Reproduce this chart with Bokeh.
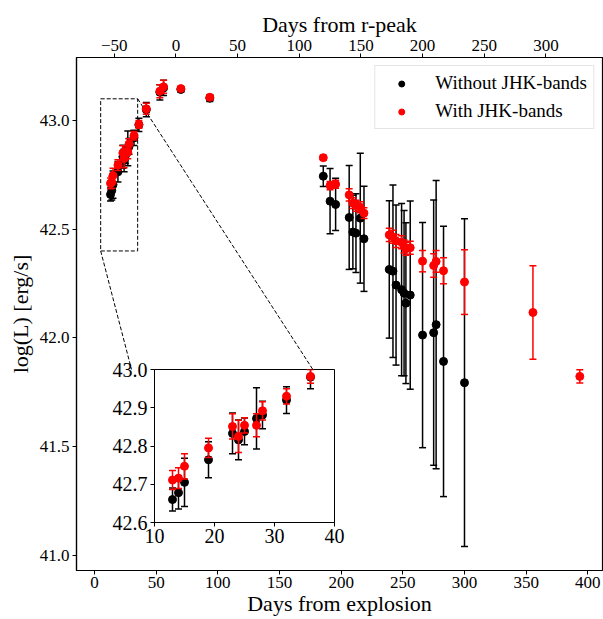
import numpy as np
from bokeh.plotting import figure
from bokeh.models import (Range1d, LinearAxis, FixedTicker, NumeralTickFormatter,
                          ColumnDataSource, Legend, LegendItem, Column)
from bokeh.embed import file_html
from bokeh.resources import INLINE

# ---------------- data ----------------
days_wo = [13, 14, 15, 19, 23, 24, 25, 27, 28, 32, 36, 42, 53, 56, 70, 93.5,
           185.5, 191, 195.5, 206.5, 209.5, 212, 215.5, 218.5,
           239, 242, 244.5, 249, 251, 252.5, 256, 266, 275, 277, 283, 300]
logL_wo = [42.660, 42.678, 42.705, 42.764, 42.833, 42.816, 42.838, 42.872, 42.881,
           42.920, 42.980, 43.050, 43.130, 43.150, 43.143, 43.103,
           42.744, 42.629, 42.614, 42.554, 42.487, 42.482, 42.551, 42.456,
           42.315, 42.307, 42.243, 42.222, 42.206, 42.160, 42.197,
           42.013, 42.024, 42.061, 41.892, 41.794]
err_wo = [0.030, 0.043, 0.063, 0.047, 0.053, 0.052, 0.035, 0.080, 0.036, 0.035,
          0.030, 0.033, 0.035, 0.035, 0.012, 0.015,
          0.047, 0.150, 0.120, 0.239, 0.169, 0.181, 0.299, 0.242,
          0.316, 0.397, 0.368, 0.396, 0.380, 0.370, 0.433,
          0.518, 0.610, 0.663, 0.622, 0.754]

days_w = [13, 14, 15, 19, 23, 24, 25, 27, 28, 32, 36, 42, 53, 56, 70, 93.5,
          185.5, 191, 195.5, 206.5, 209.5, 212, 215.5, 218.5,
          239, 242, 244.5, 249, 251, 252.5, 256, 266, 275, 277, 283, 300,
          355.5, 393.5]
logL_w = [42.711, 42.716, 42.747, 42.795, 42.851, 42.825, 42.854, 42.854, 42.892,
          42.930, 42.982, 43.054, 43.135, 43.155, 43.147, 43.107,
          42.829, 42.701, 42.707, 42.658, 42.620, 42.608, 42.601, 42.574,
          42.474, 42.465, 42.446, 42.440, 42.421, 42.410, 42.415,
          42.353, 42.333, 42.352, 42.309, 42.257, 42.117, 41.823]
err_w = [0.025, 0.027, 0.033, 0.025, 0.033, 0.042, 0.020, 0.030, 0.024, 0.020,
         0.018, 0.025, 0.030, 0.030, 0.010, 0.012,
         0.010, 0.019, 0.018, 0.028, 0.025, 0.025, 0.025, 0.025,
         0.030, 0.030, 0.030, 0.030, 0.030, 0.030, 0.030,
         0.049, 0.054, 0.050, 0.060, 0.149, 0.215, 0.031]

rpeak_offset = 66                     # days from explosion of r-band peak
bottom_ticks = [0, 50, 100, 150, 200, 250, 300, 350, 400]
top_ticks = [-50, 0, 50, 100, 150, 200, 250, 300]
y_ticks = [41.0, 41.5, 42.0, 42.5, 43.0]
inset_x_ticks = [10, 20, 30, 40]
inset_y_ticks = [42.6, 42.7, 42.8, 42.9, 43.0]

zoom_box_x = [5, 35]
zoom_box_y = [42.4, 43.1]
connector_x = [[5, 30], [35, 177]]
connector_y = [[42.4, 41.855], [43.1, 41.855]]

FONT = "Liberation Serif"
X0, X1 = -14.6, 411.9
Y0, Y1 = 40.93, 43.29


def style_axis(ax, tick_size="17px", label_size="22px"):
    ax.major_label_text_font = FONT
    ax.major_label_text_font_size = tick_size
    ax.major_label_text_color = "black"
    ax.axis_label_text_font = FONT
    ax.axis_label_text_font_style = "normal"
    ax.axis_label_text_font_size = label_size
    ax.axis_label_text_color = "black"
    ax.major_tick_in = 0
    ax.major_tick_out = 4
    ax.minor_tick_in = 0
    ax.minor_tick_out = 0
    ax.axis_line_width = 1.2
    ax.axis_line_color = "black"
    ax.major_tick_line_color = "black"
    ax.major_tick_line_width = 1


def errorbars(fig, x, y, e, color):
    x = np.asarray(x, float)
    y = np.asarray(y, float)
    e = np.asarray(e, float)
    src = ColumnDataSource(dict(x=x, y=y, lo=y - e, hi=y + e))
    fig.segment(x0="x", y0="lo", x1="x", y1="hi", source=src,
                line_color=color, line_width=1.5)
    fig.scatter(x="x", y="lo", marker="dash", size=7, source=src,
                line_color=color, line_width=1.5)
    fig.scatter(x="x", y="hi", marker="dash", size=7, source=src,
                line_color=color, line_width=1.5)
    return fig.scatter(x="x", y="y", size=8, source=src,
                       fill_color=color, line_color=color)


# ---------------- main figure ----------------
p = figure(frame_width=526, frame_height=513, x_range=Range1d(X0, X1), y_range=Range1d(Y0, Y1),
           output_backend="svg", toolbar_location=None,
           x_axis_location=None, y_axis_location=None,
           min_border_left=76, min_border_right=1, min_border_top=57,
           min_border_bottom=49)
p.xgrid.visible = False
p.ygrid.visible = False
p.outline_line_color = "black"
p.outline_line_width = 1.2
p.extra_x_ranges = {"rpeak": Range1d(X0 - rpeak_offset, X1 - rpeak_offset)}

ax_b = LinearAxis(ticker=FixedTicker(ticks=bottom_ticks), axis_label="Days from explosion")
style_axis(ax_b)
ax_b.major_label_standoff = 2
ax_b.axis_label_standoff = 0
p.add_layout(ax_b, "below")

ax_t = LinearAxis(x_range_name="rpeak", ticker=FixedTicker(ticks=top_ticks),
                  axis_label="Days from r-peak",
                  major_label_overrides={t: ("\u2212" + str(abs(t)) if t < 0 else str(t))
                                         for t in top_ticks})
style_axis(ax_t)
ax_t.major_label_standoff = 3
ax_t.axis_label_standoff = 0
p.add_layout(ax_t, "above")

ax_l = LinearAxis(ticker=FixedTicker(ticks=y_ticks), formatter=NumeralTickFormatter(format="0.0"),
                  axis_label="log(L) [erg/s]")
style_axis(ax_l)
ax_l.major_label_standoff = 3
ax_l.axis_label_standoff = 4
p.add_layout(ax_l, "left")

# zoom box and connectors
p.quad(left=[zoom_box_x[0]], right=[zoom_box_x[1]], bottom=[zoom_box_y[0]], top=[zoom_box_y[1]],
       fill_color=None, line_color="black", line_width=1, line_dash="4 2")
p.multi_line(xs=connector_x, ys=connector_y, line_color="black", line_width=1, line_dash="4 2")

r_wo = errorbars(p, days_wo, logL_wo, err_wo, "black")
r_w = errorbars(p, days_w, logL_w, err_w, "red")

legend = Legend(items=[LegendItem(label="Without JHK-bands", renderers=[r_wo]),
                       LegendItem(label="With JHK-bands", renderers=[r_w])],
                location="top_right")
legend.label_text_font = FONT
legend.label_text_font_size = "19px"
legend.label_text_color = "black"
legend.border_line_color = "#cccccc"
legend.border_line_width = 1
legend.background_fill_alpha = 0.8
legend.padding = 6
legend.spacing = 6
legend.margin = 8
legend.glyph_width = 40
legend.glyph_height = 15
legend.label_height = 20
legend.label_standoff = 14
p.add_layout(legend)

# ---------------- inset ----------------
inset = figure(width=270, height=197, x_range=Range1d(10, 40), y_range=Range1d(42.6, 43.0),
               output_backend="svg", toolbar_location=None,
               x_axis_location=None, y_axis_location=None,
               min_border_left=45, min_border_right=14, min_border_top=14,
               min_border_bottom=30,
               background_fill_color="white", border_fill_alpha=0,
               styles={"position": "absolute", "left": "78px", "top": "355px",
                       "z-index": "10"})
inset.xgrid.visible = False
inset.ygrid.visible = False
inset.outline_line_color = "black"
inset.outline_line_width = 1

iax_b = LinearAxis(ticker=FixedTicker(ticks=inset_x_ticks))
style_axis(iax_b, tick_size="20px")
iax_b.axis_line_width = 1
iax_b.major_label_standoff = 2
inset.add_layout(iax_b, "below")
iax_l = LinearAxis(ticker=FixedTicker(ticks=inset_y_ticks), formatter=NumeralTickFormatter(format="0.0"))
style_axis(iax_l, tick_size="20px")
iax_l.axis_line_width = 1
iax_l.major_label_standoff = 3
inset.add_layout(iax_l, "left")

errorbars(inset, days_wo, logL_wo, err_wo, "black")
errorbars(inset, days_w, logL_w, err_w, "red")

layout = Column(children=[p, inset],
                styles={"position": "relative", "width": "603px", "height": "619px",
                        "overflow": "hidden"})

open("out.html", "w").write(file_html(layout, INLINE))
